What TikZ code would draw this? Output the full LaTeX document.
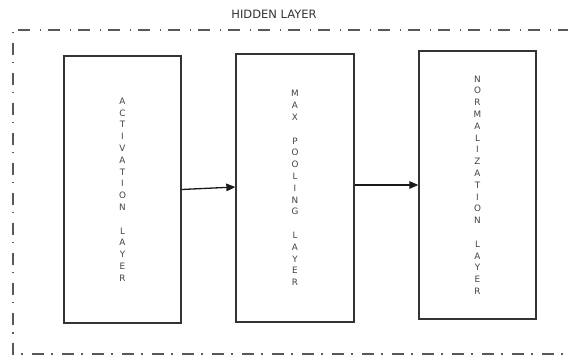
\documentclass[tikz,border=0pt]{standalone}
\usepackage{fontspec}
\setmainfont{DejaVu Sans}
\usetikzlibrary{arrows.meta}
\begin{document}
\begin{tikzpicture}[x=1pt,y=-1pt,
  layerbox/.style={draw=black!80, line width=1.3pt, minimum width=117pt, minimum height=267pt, inner sep=0pt,
    align=center, text=black!75, font=\fontsize{8.8}{11.8}\selectfont},
  flow/.style={draw=black!90, line width=1.3pt, -{Triangle[length=9pt,width=7.5pt]}},
  frame/.style={draw=black!65, line width=1.1pt, dash pattern=on 12pt off 7pt on 1.5pt off 9.5pt}]
\useasboundingbox (0,0) rectangle (568,358);
\node[font=\fontsize{11.5}{13}\selectfont, text=black!80] (title) at (274,14) {HIDDEN LAYER};
\coordinate (ftr) at (570,30);
\coordinate (ftl) at (13,30);
\coordinate (fbl) at (13,354);
\coordinate (fbr) at (570,354);
\draw[frame] (ftr) -- (ftl) -- (fbl) -- (fbr);
\node[layerbox] (b1) at (122.5,189.5) {A\\C\\T\\I\\V\\A\\T\\I\\O\\N\\\mbox{}\\L\\A\\Y\\E\\R};
\node[layerbox, minimum width=118pt, minimum height=268pt] (b2) at (295,188) {M\\A\\X\\\mbox{}\\P\\O\\O\\L\\I\\N\\G\\\mbox{}\\L\\A\\Y\\E\\R};
\node[layerbox, minimum height=268pt] (b3) at (477.5,185) {N\\O\\R\\M\\A\\L\\I\\Z\\A\\T\\I\\O\\N\\\mbox{}\\L\\A\\Y\\E\\R};
\draw[flow] (b1.east) -- ([yshift=1pt]b2.west);
\draw[flow] ([yshift=3pt]b2.east) -- (b3.west);
\end{tikzpicture}
\end{document}
